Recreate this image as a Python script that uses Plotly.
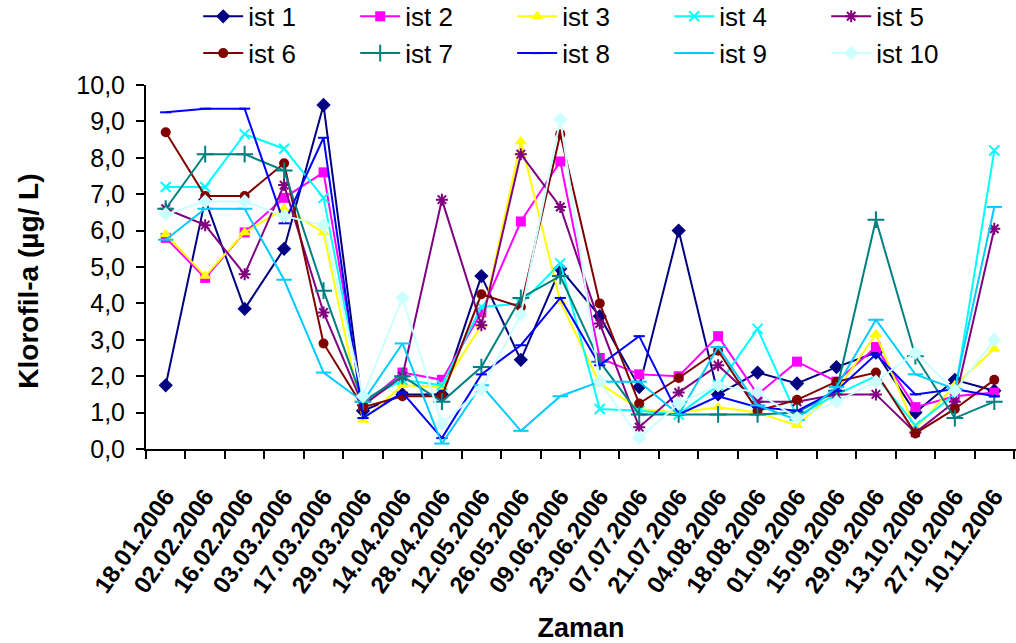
import plotly.graph_objects as go

dates = ["18.01.2006", "02.02.2006", "16.02.2006", "03.03.2006", "17.03.2006",
         "29.03.2006", "14.04.2006", "28.04.2006", "12.05.2006", "26.05.2006",
         "09.06.2006", "23.06.2006", "07.07.2006", "21.07.2006", "04.08.2006",
         "18.08.2006", "01.09.2006", "15.09.2006", "29.09.2006", "13.10.2006",
         "27.10.2006", "10.11.2006"]

ist1 = [1.75, 6.85, 3.85, 5.5, 9.45, 1.05, 1.5, 1.5, 4.75, 2.45, 4.95, 3.65, 1.7, 6.0, 1.5, 2.1, 1.8, 2.25, 2.65, 1.0, 1.9, 1.6]
ist2 = [5.8, 4.7, 5.95, 6.9, 7.6, 1.2, 2.1, 1.9, 3.75, 6.25, 7.9, 2.5, 2.05, 2.0, 3.1, 1.5, 2.4, 1.85, 2.8, 1.15, 1.45, 1.55]
ist3 = [5.9, 4.75, 5.95, 6.6, 5.95, 0.8, 1.75, 1.7, 3.4, 8.45, 4.05, 1.8, 1.1, 1.0, 1.15, 1.0, 0.65, 1.6, 3.15, 0.55, 1.75, 2.75]
ist4 = [7.2, 7.2, 8.65, 8.25, 6.9, 1.3, 1.9, 1.75, 3.9, 4.0, 5.1, 1.1, 1.05, 0.95, 1.75, 3.3, 0.9, 1.5, 2.0, 0.65, 1.5, 8.2]
ist5 = [6.6, 6.15, 4.8, 7.25, 3.75, 1.2, 2.0, 6.85, 3.4, 8.1, 6.65, 3.45, 0.6, 1.55, 2.3, 1.3, 1.3, 1.5, 1.5, 0.45, 1.3, 6.05]
ist6 = [8.7, 6.95, 6.95, 7.85, 2.9, 1.15, 1.45, 1.45, 4.25, 3.9, 8.65, 4.0, 1.25, 1.95, 2.7, 1.05, 1.35, 1.85, 2.1, 0.43, 1.1, 1.9]
ist7 = [6.6, 8.1, 8.1, 7.65, 4.35, 1.3, 2.0, 1.3, 2.25, 4.15, 4.75, 2.4, 0.95, 0.95, 0.95, 0.95, 1.0, 1.6, 6.3, 2.55, 0.85, 1.3]
ist8 = [9.25, 9.35, 9.35, 6.2, 8.55, 0.85, 1.55, 0.3, 2.05, 2.85, 4.15, 2.3, 3.1, 0.95, 1.45, 1.15, 1.05, 1.6, 2.6, 1.5, 1.65, 1.45]
ist9 = [5.75, 6.6, 6.6, 4.65, 2.1, 1.3, 2.9, 0.15, 1.75, 0.5, 1.45, 1.85, 1.85, 0.95, 2.8, 1.2, 0.8, 1.7, 3.55, 2.05, 1.65, 6.65]
ist10 = [6.45, 6.8, 6.8, 6.4, 6.15, 1.45, 4.15, 0.7, 1.65, 3.7, 9.05, 1.85, 0.3, 1.25, 1.75, 1.55, 0.85, 1.3, 1.85, 2.65, 1.6, 3.0]

names = ["ist 1", "ist 2", "ist 3", "ist 4", "ist 5", "ist 6", "ist 7", "ist 8", "ist 9", "ist 10"]
series = [ist1, ist2, ist3, ist4, ist5, ist6, ist7, ist8, ist9, ist10]
colors = ["#000080", "#FF00FF", "#FFFF00", "#00FFFF", "#800080",
          "#800000", "#008080", "#0000FF", "#00CCFF", "#CCFFFF"]
symbols = ["diamond", "square", "triangle-up", "x-thin-open", "asterisk-open",
           "circle", "cross-thin-open", "line-ew-open", "line-ew-open", "diamond"]
sizes = [11, 10, 11, 10, 10, 10, 12, 8, 11, 11]

fig = go.Figure()
for name, vals, col, sym, sz in zip(names, series, colors, symbols, sizes):
    open_sym = sym.endswith("open")
    fig.add_trace(go.Scatter(
        x=dates, y=vals, name=name, mode="lines+markers",
        line=dict(color=col, width=2),
        marker=dict(symbol=sym, size=sz, color=col,
                    line=dict(color=col, width=2 if open_sym else 0)),
    ))

fig.update_layout(
    width=1016, height=643,
    margin=dict(l=146, r=0, t=85, b=194, autoexpand=False),
    paper_bgcolor="white", plot_bgcolor="white",
    separators=",.",
    font=dict(family="Liberation Sans, Arial, sans-serif", color="black"),
    showlegend=True,
    legend=dict(orientation="h", x=0.06, xanchor="left", y=1.253, yanchor="top",
                font=dict(size=26), entrywidth=102, entrywidthmode="pixels",
                tracegroupgap=0, itemwidth=40, bgcolor="rgba(0,0,0,0)"),
    xaxis=dict(type="category", range=[-0.5, 21.55], tickson="boundaries",
               showline=True, linecolor="black", linewidth=2,
               ticks="outside", ticklen=8, tickcolor="black", tickwidth=2,
               tickangle=-55, ticklabelstandoff=22,
               tickfont=dict(size=24, family="Liberation Sans, Arial", weight="bold"),
               showgrid=False, zeroline=False,
               title=dict(text="<b>Zaman</b>", font=dict(size=27), standoff=22)),
    yaxis=dict(range=[0, 10], dtick=1, tickformat=".1f",
               showline=True, linecolor="black", linewidth=2,
               ticks="outside", ticklen=8, tickcolor="black", tickwidth=2,
               tickfont=dict(size=25), ticklabelstandoff=6,
               showgrid=False, zeroline=False),
    annotations=[dict(text="<b>Klorofil-a (µg/ L)</b>", textangle=-90,
                      xref="paper", yref="paper", x=-0.136, y=0.4615,
                      xanchor="center", yanchor="middle", showarrow=False,
                      font=dict(size=28))],
)

fig.write_html("out.html")
